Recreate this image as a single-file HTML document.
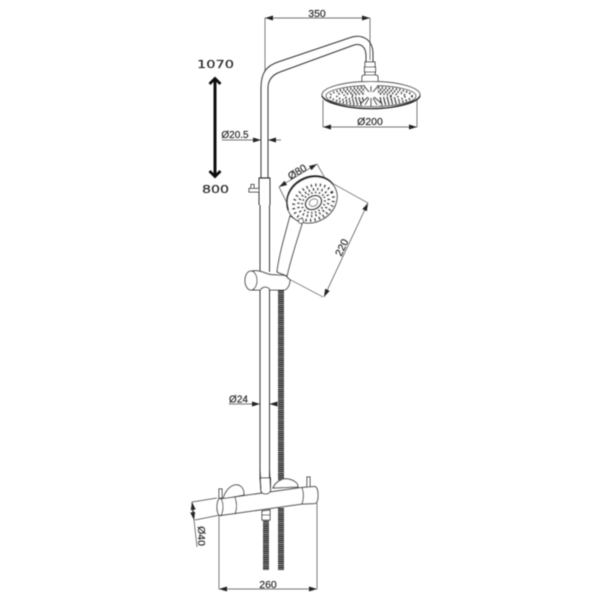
<!DOCTYPE html>
<html><head><meta charset="utf-8"><style>
html,body{margin:0;padding:0;background:#fff}
svg{display:block;font-family:"Liberation Sans",sans-serif}
text{fill:#222;stroke:#222;stroke-width:.15}
.l{fill:none;stroke:#333;stroke-width:1}
.t{fill:none;stroke:#444;stroke-width:.7}
.f{fill:#fff;stroke:#333;stroke-width:1}
</style></head><body>
<svg width="600" height="600" viewBox="0 0 600 600" xmlns="http://www.w3.org/2000/svg">
<defs>
<marker id="a" viewBox="0 0 8 6" refX="8" refY="3" markerWidth="8" markerHeight="6" orient="auto-start-reverse" markerUnits="userSpaceOnUse"><path d="M0 0.5L8 3L0 5.5z" fill="#222"/></marker>
<filter id="b"><feGaussianBlur stdDeviation=".4"/></filter>
</defs>
<g filter="url(#b)">
<!-- height arrow -->
<path d="M215 79V175" stroke="#111" stroke-width="3" fill="none"/>
<path d="M209.500 84L215 78.500L220.500 84M209.500 171L215 176.500L220.500 171" stroke="#111" stroke-width="2.800" fill="none"/>
<!-- arm -->
<path class="l" d="M261 178V88C261 73 266 66 278 62L352 37C363 34 373 40 373 54V66"/>
<path class="l" d="M268 178V88C268 80 272 75 280 72L354 45C361 43 366 47 366 56V66"/>
<!-- head connector -->
<path class="f" d="M365 62H375V75H365z"/>
<path class="f" d="M364.500 67H375.500V72H364.500z"/>
<path class="f" d="M362 82V77Q362 75 365 75H375Q378 75 378 77V82z"/>
<!-- head -->
<ellipse class="f" cx="371" cy="95" rx="49" ry="13.500" stroke-width="1.200"/>
<ellipse class="l" cx="371" cy="96" rx="45" ry="10.500" stroke-width=".8"/>
<path d="M322 96C327 104 350 108.500 371 108.500S415 104 420 96" fill="none" stroke="#222" stroke-width="1.600"/>
<g fill="none" stroke="#222" stroke-width="2.200">
<ellipse cx="371" cy="96" rx="41" ry="8.500" stroke-dasharray="1.500 2"/>
<ellipse cx="371" cy="96" rx="34" ry="6.500" stroke-dasharray="1.500 2"/>
<ellipse cx="371" cy="96" rx="27" ry="4.500" stroke-dasharray="1.500 2"/>
<ellipse cx="371" cy="96" rx="20" ry="2.500" stroke-dasharray="1.500 2"/>
</g>
<path fill="#fff" d="M365 85L377 85L379 106L363 106z"/>
<path d="M371 86V92M364 86L369 92M378 86L373 92M361 103L368 97M381 103L374 97M371 98V106M365 105L369 98M377 105L373 98" stroke="#333" stroke-width="1.200"/>
<!-- slider on pole -->
<path class="l" d="M259 205V178H270V205" stroke-width="1.100"/>
<path d="M259 178H270" stroke="#333" stroke-width="1.200"/>
<path class="l" d="M260 205V272M269.500 205V272"/>
<path class="f" d="M249 188.500H259V192H249zM251 184.500H254V188.500H251z"/>
<!-- hand shower handle -->
<path class="f" d="M290 216C285 235 279 255 277 272L287 276C291 258 297 240 302 224z"/>
<!-- hand shower head -->
<g transform="rotate(-30 312 200)">
<ellipse class="f" cx="312" cy="200" rx="26" ry="22" stroke-width="1.200"/>
<path d="M286.500 197C289 184 300 177 312 177S336 184 338 197" fill="none" stroke="#222" stroke-width="1.600"/>
<g fill="none" stroke="#222">
<ellipse cx="312" cy="203" rx="21" ry="16.500" stroke-width="3" stroke-dasharray="1.500 3"/>
<ellipse cx="312" cy="203" rx="16" ry="12.500" stroke-width="2.600" stroke-dasharray="1.500 2.800"/>
<ellipse cx="312" cy="203" rx="12" ry="9.500" stroke-width="2" stroke-dasharray="1.500 2.300"/>
</g>
<ellipse cx="312" cy="203" rx="8.500" ry="6.500" fill="#fff" stroke="#222" stroke-width="1.400"/>
<ellipse cx="312" cy="203" rx="4.500" ry="3.500" fill="#fff" stroke="#444" stroke-width=".8"/>
</g>
<circle cx="301" cy="221" r="2.500" class="f"/>
<!-- hose -->
<path d="M281 290V480M281 508V570" stroke="#333" stroke-width="6" stroke-dasharray="1.700 .4" fill="none"/>
<!-- holder -->
<path class="f" d="M252 271C258 270 263 272 268 274C275 276 281 274 286 276L290 280C290 285 287 290 284 290H270C268 286 263 286 260 290H252z"/>
<ellipse class="f" cx="251" cy="280.500" rx="6" ry="9.500"/>
<path class="l" d="M260 290V480M269.500 290V480"/>
<!-- knobs -->
<path class="f" d="M223 499C226 488 233 484 238 485C242 486 244 490 244 495z"/>
<path class="f" d="M273 488C276 481 283 478 288 479C294 480 298 483 298 487z"/>
<path class="f" d="M219 498V489H222V498zM307 488V477H310V488z"/>
<!-- mixer bar -->
<path class="f" d="M220 499L302 487.500L315 486.500C317 487 318 491 318 495C318 500 317 503 315 503.500L302 504L220 515.500z"/>
<ellipse class="f" cx="220" cy="507" rx="3" ry="8.500"/>
<path class="l" d="M235 497C237 503 237 509 235 514M302 487.500C304 493 304 498 302 504"/>
<!-- pole lower end -->
<path class="f" d="M260 478L261 491C262 495 269 495 270.500 491V478z" stroke="none"/>
<path class="l" d="M260 470L261 491C262 495 269 495 270.500 491L269.500 470"/>
<!-- lower hose -->
<path d="M266 519V570" stroke="#333" stroke-width="6" stroke-dasharray="1.700 .4" fill="none"/>
<path class="f" d="M262 511L270 510V520H262z"/>
<path class="l" d="M262 515H270"/>
<!-- dimensions -->
<g class="t">
<path d="M265 18V72M370 18V60" />
<path d="M265 18H370" marker-start="url(#a)" marker-end="url(#a)"/>
<path d="M323 100V127M417 100V127"/>
<path d="M323 127H417" marker-start="url(#a)" marker-end="url(#a)"/>
<path d="M222 140H261" marker-end="url(#a)"/>
<path d="M281 140H268" marker-end="url(#a)"/>
<path d="M279 187L288 205M317 164L326 180"/>
<path d="M279 187L317 164" marker-start="url(#a)" marker-end="url(#a)"/>
<path d="M330 182L368 203M287 278L323 297"/>
<path d="M368 203L324 297" marker-start="url(#a)" marker-end="url(#a)"/>
<path d="M229 404H260" marker-end="url(#a)"/>
<path d="M277 404H269.500" marker-end="url(#a)"/>
<path d="M192 502L217 498M195 520L220 515"/>
<path d="M192 502L197 547"/>
<path d="M194 515L192 502" marker-end="url(#a)"/>
<path d="M192 508L194 520" marker-end="url(#a)"/>
<path d="M219 516V589M317 503V589"/>
<path d="M219 589H317" marker-start="url(#a)" marker-end="url(#a)"/>
</g>
<g font-size="10.500" text-anchor="middle">
<text x="317" y="17">350</text>
<text x="370" y="125">Ø200</text>
<text x="235" y="138" font-size="10">Ø20.5</text>
<text x="238.500" y="402.500" font-size="10">Ø24</text>
<text x="268" y="588">260</text>
<text transform="translate(299 175) rotate(-31)">Ø80</text>
<text transform="translate(345 249) rotate(-65)">220</text>
<text transform="translate(198 536) rotate(90)">Ø40</text>
</g>
<g font-family="'DejaVu Sans',sans-serif" font-size="11" style="stroke-width:.3">
<text x="197" y="68" textLength="37" lengthAdjust="spacingAndGlyphs">1070</text>
<text x="202" y="193" textLength="27" lengthAdjust="spacingAndGlyphs">800</text>
</g>
</g>
</svg>
</body></html>
